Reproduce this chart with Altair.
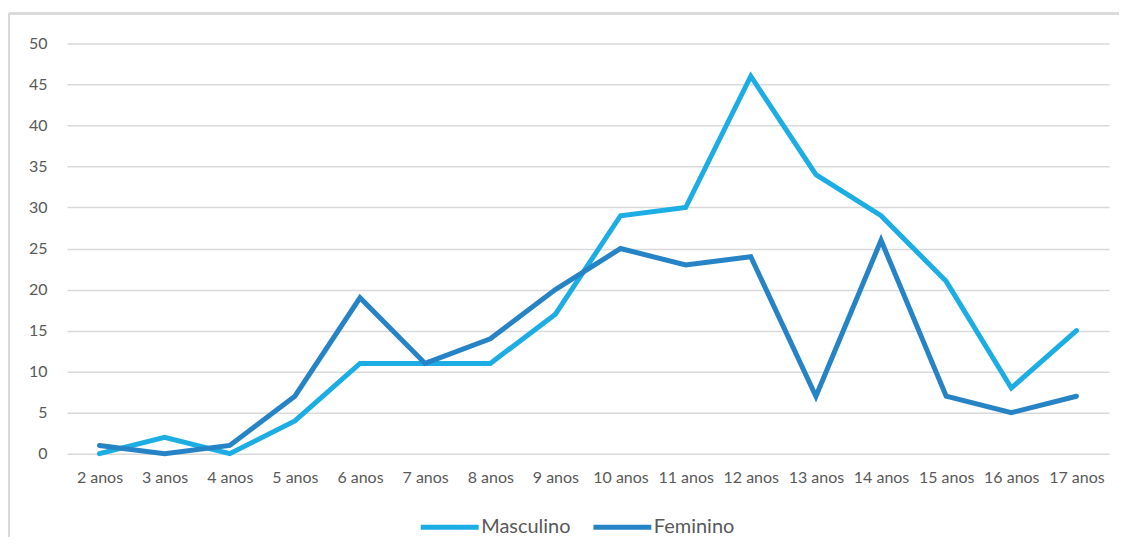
import altair as alt
import pandas as pd

categories = ["2 anos", "3 anos", "4 anos", "5 anos", "6 anos", "7 anos", "8 anos", "9 anos",
              "10 anos", "11 anos", "12 anos", "13 anos", "14 anos", "15 anos", "16 anos", "17 anos"]
masculino = [0, 2, 0, 4, 11, 11, 11, 17, 29, 30, 46, 34, 29, 21, 8, 15]
feminino = [1, 0, 1, 7, 19, 11, 14, 20, 25, 23, 24, 7, 26, 7, 5, 7]
series = ["Masculino", "Feminino"]
colors = ["#1CADE4", "#2683C6"]
y_ticks = [0, 5, 10, 15, 20, 25, 30, 35, 40, 45, 50]

rows = []
for name, vals in zip(series, [masculino, feminino]):
    for c, v in zip(categories, vals):
        rows.append({"idade": c, "valor": v, "serie": name})
df = pd.DataFrame(rows)

W, H = 1044, 411
FONT = "Lato"
GREY = "#595959"

lines = alt.Chart(df).mark_line(strokeWidth=5, strokeCap="round").encode(
    x=alt.X("idade:N", sort=categories, title=None,
            scale=alt.Scale(padding=0.5),
            axis=alt.Axis(labelAngle=0, domain=False, ticks=False, labelPadding=16,
                          labelFont=FONT, labelFontSize=16, labelColor=GREY, grid=False)),
    y=alt.Y("valor:Q", title=None,
            scale=alt.Scale(domain=[0, 50], nice=False),
            axis=alt.Axis(values=y_ticks, domain=False, ticks=False, labelPadding=20,
                          labelFont=FONT, labelFontSize=16, labelColor=GREY,
                          grid=True, gridColor="#D9D9D9", gridWidth=1.5)),
    color=alt.Color("serie:N", title=None,
                    scale=alt.Scale(domain=series, range=colors),
                    legend=alt.Legend(orient="none", legendX=352, legendY=453,
                                      direction="horizontal", symbolType="stroke",
                                      symbolSize=3364, symbolStrokeWidth=5,
                                      labelFont=FONT, labelFontSize=20, labelColor=GREY,
                                      labelOffset=0, columnPadding=12)),
)

border_top = alt.Chart(df).mark_rule(color="#D9D9D9", strokeWidth=1.5).encode(
    x=alt.value(-58), x2=alt.value(1054), y=alt.value(-30))
border_left = alt.Chart(df).mark_rule(color="#D9D9D9", strokeWidth=1.5).encode(
    x=alt.value(-58), y=alt.value(-30), y2=alt.value(494))

chart = alt.layer(border_top, border_left, lines).properties(
    width=W, height=H,
    padding={"left": 0, "top": 4, "right": 0, "bottom": 0},
).configure_view(stroke=None)

chart.save("out.html", embed_options={"renderer": "svg", "actions": False})
